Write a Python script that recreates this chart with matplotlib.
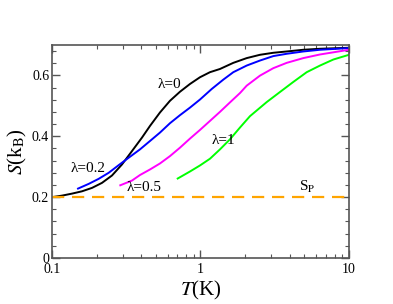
import matplotlib
matplotlib.use("Agg")
import matplotlib.pyplot as plt
from matplotlib.ticker import MultipleLocator, LogLocator, FixedLocator, NullFormatter

T_l0 = [0.1, 0.1168, 0.1364, 0.1592, 0.1860, 0.2171, 0.2535, 0.2960, 0.3457, 0.4037, 0.4570,
        0.5337, 0.6232, 0.7277, 0.8497, 0.992, 1.158, 1.353, 1.663, 2.047, 2.515, 3.092,
        3.806, 4.923, 6.378, 10.0]
S_l0 = [0.2000, 0.2050, 0.2116, 0.2192, 0.2304, 0.2469, 0.2711, 0.3074, 0.3514, 0.3957, 0.4340,
        0.4783, 0.5167, 0.5464, 0.5719, 0.5940, 0.6106, 0.6212, 0.6413, 0.6569, 0.6678, 0.6744,
        0.6787, 0.6843, 0.6876, 0.6909]

T_l02 = [0.1497, 0.1767, 0.2063, 0.2408, 0.2812, 0.3285, 0.3914, 0.4570, 0.5337, 0.6232, 0.7277,
         0.8497, 0.992, 1.190, 1.424, 1.663, 2.047, 2.515, 3.092, 3.806, 4.923, 6.378, 10.0]
S_l02 = [0.2281, 0.2436, 0.2602, 0.2800, 0.3051, 0.3296, 0.3570, 0.3845, 0.4122, 0.4430, 0.4694,
         0.4942, 0.5207, 0.5554, 0.5861, 0.6106, 0.6324, 0.6489, 0.6635, 0.6711, 0.6787, 0.6843, 0.6899]

T_l05 = [0.2884, 0.3457, 0.3914, 0.4570, 0.5337, 0.6232, 0.7277, 0.8497, 0.992, 1.159, 1.353,
         1.580, 1.845, 2.047, 2.515, 3.092, 3.806, 4.923, 6.378, 10.0]
S_l05 = [0.2390, 0.2545, 0.2727, 0.2909, 0.3107, 0.3349, 0.3626, 0.3924, 0.4208, 0.4506, 0.4803,
         0.5114, 0.5421, 0.5663, 0.5993, 0.6238, 0.6413, 0.6569, 0.6688, 0.6843]

T_l1 = [0.7022, 0.8497, 0.992, 1.159, 1.353, 1.580, 1.845, 2.154, 2.792, 3.430, 4.216, 5.190,
        6.378, 7.841, 10.0]
S_l1 = [0.2612, 0.2843, 0.3041, 0.3263, 0.3570, 0.3901, 0.4288, 0.4661, 0.5124, 0.5455, 0.5785,
        0.6106, 0.6324, 0.6522, 0.6678]

T_sp = [0.1, 10.0]
S_sp = [0.2, 0.2]

series_colors = ["black", "#0000ff", "#ff00ff", "#00ff00"]

plt.rcParams['font.family'] = ['Liberation Serif', 'DejaVu Serif']
plt.rcParams['mathtext.fontset'] = 'stix'

fig = plt.figure(figsize=(3.93, 3.04), dpi=100)
ax = fig.add_axes([0.1323, 0.1513, 0.7557, 0.7007])

for T, S, c in zip([T_l0, T_l02, T_l05, T_l1], [S_l0, S_l02, S_l05, S_l1], series_colors):
    ax.plot(T, S, color=c, lw=1.4, solid_joinstyle='round')
ax.plot(T_sp, S_sp, color="#ffa500", lw=1.6, dashes=(5.5, 3.5))

ax.set_xscale('log')
ax.set_xlim(0.1, 10)
ax.set_ylim(0, 0.7)
ax.set_xticks([0.1, 1, 10])
ax.set_xticklabels(["0.1", "1", "10"])
ax.xaxis.set_minor_locator(LogLocator(base=10, subs=range(2, 10)))
ax.xaxis.set_minor_formatter(NullFormatter())
ax.yaxis.set_major_locator(FixedLocator([0, 0.2, 0.4, 0.6]))
ax.set_yticklabels(["0", "0.2", "0.4", "0.6"])
ax.yaxis.set_minor_locator(MultipleLocator(0.04))

ax.tick_params(which='both', direction='in', top=True, right=True, labelsize=10,
               colors='#555555', labelcolor='black')
ax.tick_params(which='major', length=6, width=1)
ax.tick_params(which='minor', length=3, width=0.8)
ax.tick_params(axis='y', pad=2)
for sp in ax.spines.values():
    sp.set_color('#555555')
    sp.set_linewidth(1.2)

ax.set_xlabel(r"$T$(K)", fontsize=15, labelpad=2)
ax.set_ylabel(r"$S$(k$_\mathrm{B}$)", fontsize=15, labelpad=2)

ax.text(0.62, 0.57, "λ=0", fontsize=11, ha='center', va='center')
ax.text(0.174, 0.295, "λ=0.2", fontsize=11, ha='center', va='center')
ax.text(0.42, 0.232, "λ=0.5", fontsize=11, ha='center', va='center')
ax.text(1.42, 0.387, "λ=1", fontsize=11, ha='center', va='center')
ax.text(5.2, 0.232, r"S$_\mathrm{P}$", fontsize=11, ha='center', va='center')

fig.savefig("out.png", dpi=100)
